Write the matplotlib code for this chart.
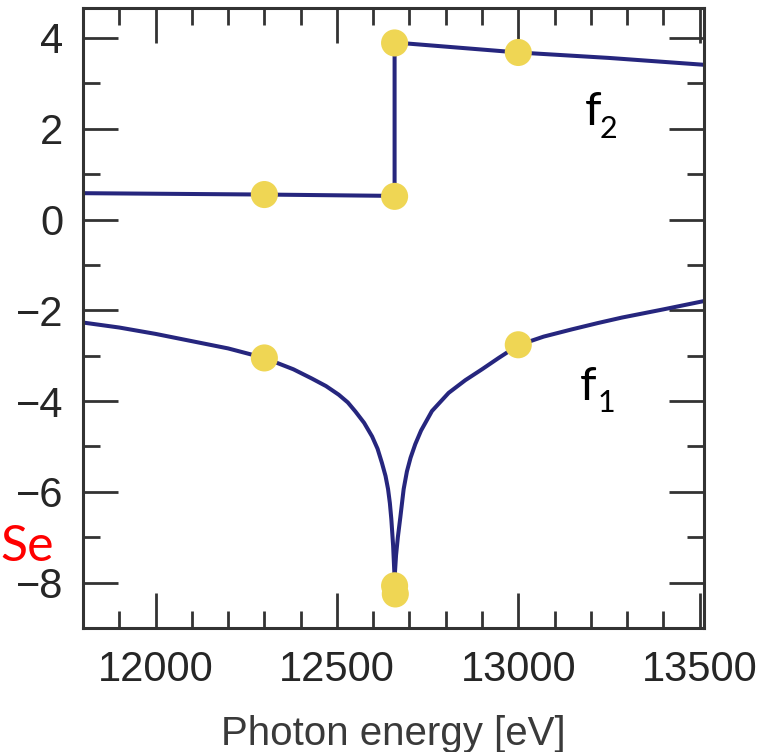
import matplotlib
matplotlib.use("Agg")
import matplotlib.pyplot as plt
from matplotlib.ticker import MultipleLocator

# ---- data ----
f1_left_E = [11800, 11900, 12000, 12100, 12200, 12300, 12380, 12430, 12470, 12505,
             12530, 12551, 12575, 12597, 12612, 12624, 12634, 12641, 12646, 12650,
             12655, 12659]
f1_left = [-2.27, -2.38, -2.52, -2.68, -2.84, -3.05, -3.30, -3.50, -3.67, -3.86,
           -4.03, -4.23, -4.48, -4.78, -5.05, -5.36, -5.65, -5.94, -6.25, -6.60,
           -7.19, -7.9]
f1_right_E = [12659, 12663, 12668, 12675, 12684, 12693, 12703, 12716, 12732, 12762,
              12808, 12854, 12900, 12946, 13000, 13070, 13148, 13220, 13286, 13400,
              13510]
f1_right = [-7.9, -7.4, -7.0, -6.55, -5.94, -5.55, -5.25, -4.95, -4.65, -4.22,
            -3.82, -3.54, -3.30, -3.05, -2.77, -2.58, -2.42, -2.28, -2.16, -1.98,
            -1.80]
f2_E = [11800, 12300, 12659, 12659, 13000, 13250, 13510]
f2 = [0.58, 0.55, 0.52, 3.90, 3.68, 3.56, 3.41]

f2_dot_E = [12300, 12659, 12659, 13000]
f2_dot = [0.55, 0.51, 3.89, 3.68]
f1_dot_E = [12300, 12659, 12661, 13000]
f1_dot = [-3.05, -8.07, -8.25, -2.76]

x_ticks = [12000, 12500, 13000, 13500]
y_ticks = [-8, -6, -4, -2, 0, 2, 4]

line_color = "#26267e"
dot_color = "#efd654"

fig = plt.figure(figsize=(7.70, 7.52), dpi=100)
ax = fig.add_axes([83/770, 1-628/752, (704-83)/770, (628-8)/752])

ax.plot(f1_left_E, f1_left, color=line_color, lw=2.9, solid_joinstyle="round", zorder=2)
ax.plot(f1_right_E, f1_right, color=line_color, lw=2.9, solid_joinstyle="round", zorder=2)
ax.plot(f2_E, f2, color=line_color, lw=2.9, zorder=2)
ax.scatter(f2_dot_E, f2_dot, s=19.5**2, color=dot_color, edgecolors="none", zorder=3)
ax.scatter(f1_dot_E, f1_dot, s=19.5**2, color=dot_color, edgecolors="none", zorder=3)

ax.set_xlim(11800, 13512)
ax.set_ylim(-9.0, 4.66)
ax.set_xticks(x_ticks)
ax.set_yticks(y_ticks)
ax.xaxis.set_minor_locator(MultipleLocator(100))
ax.yaxis.set_minor_locator(MultipleLocator(1))

font = "Liberation Sans"
for lab in ax.get_xticklabels() + ax.get_yticklabels():
    lab.set_fontfamily(font)
    lab.set_fontsize(30)
    lab.set_color("#262626")

ax.tick_params(which="both", direction="in", top=True, right=True, color="#333333", width=2)
ax.tick_params(which="major", length=25)
ax.tick_params(which="minor", length=12)
ax.tick_params(axis="x", which="major", pad=16)
ax.tick_params(axis="y", which="major", pad=14)
for sp in ax.spines.values():
    sp.set_linewidth(2.2)
    sp.set_color("#333333")

ax.set_xlabel("Photon energy [eV]", fontfamily=font, fontsize=29, color="#3a3a3a", labelpad=18)

# annotations
tfont = "Lato"
fig.text(0/770, 1-561/752, "Se", color="#ff0000", fontfamily=tfont, fontsize=36, ha="left", va="baseline")
fig.text(585/770, 1-125/752, "f", color="black", fontfamily=tfont, fontsize=34, ha="left", va="baseline")
fig.text(600/770, 1-138/752, "2", color="black", fontfamily=tfont, fontsize=22, ha="left", va="baseline")
fig.text(580/770, 1-400/752, "f", color="black", fontfamily=tfont, fontsize=34, ha="left", va="baseline")
fig.text(598/770, 1-412/752, "1", color="black", fontfamily=tfont, fontsize=22, ha="left", va="baseline")

fig.savefig("out.png", dpi=100, facecolor="white")
